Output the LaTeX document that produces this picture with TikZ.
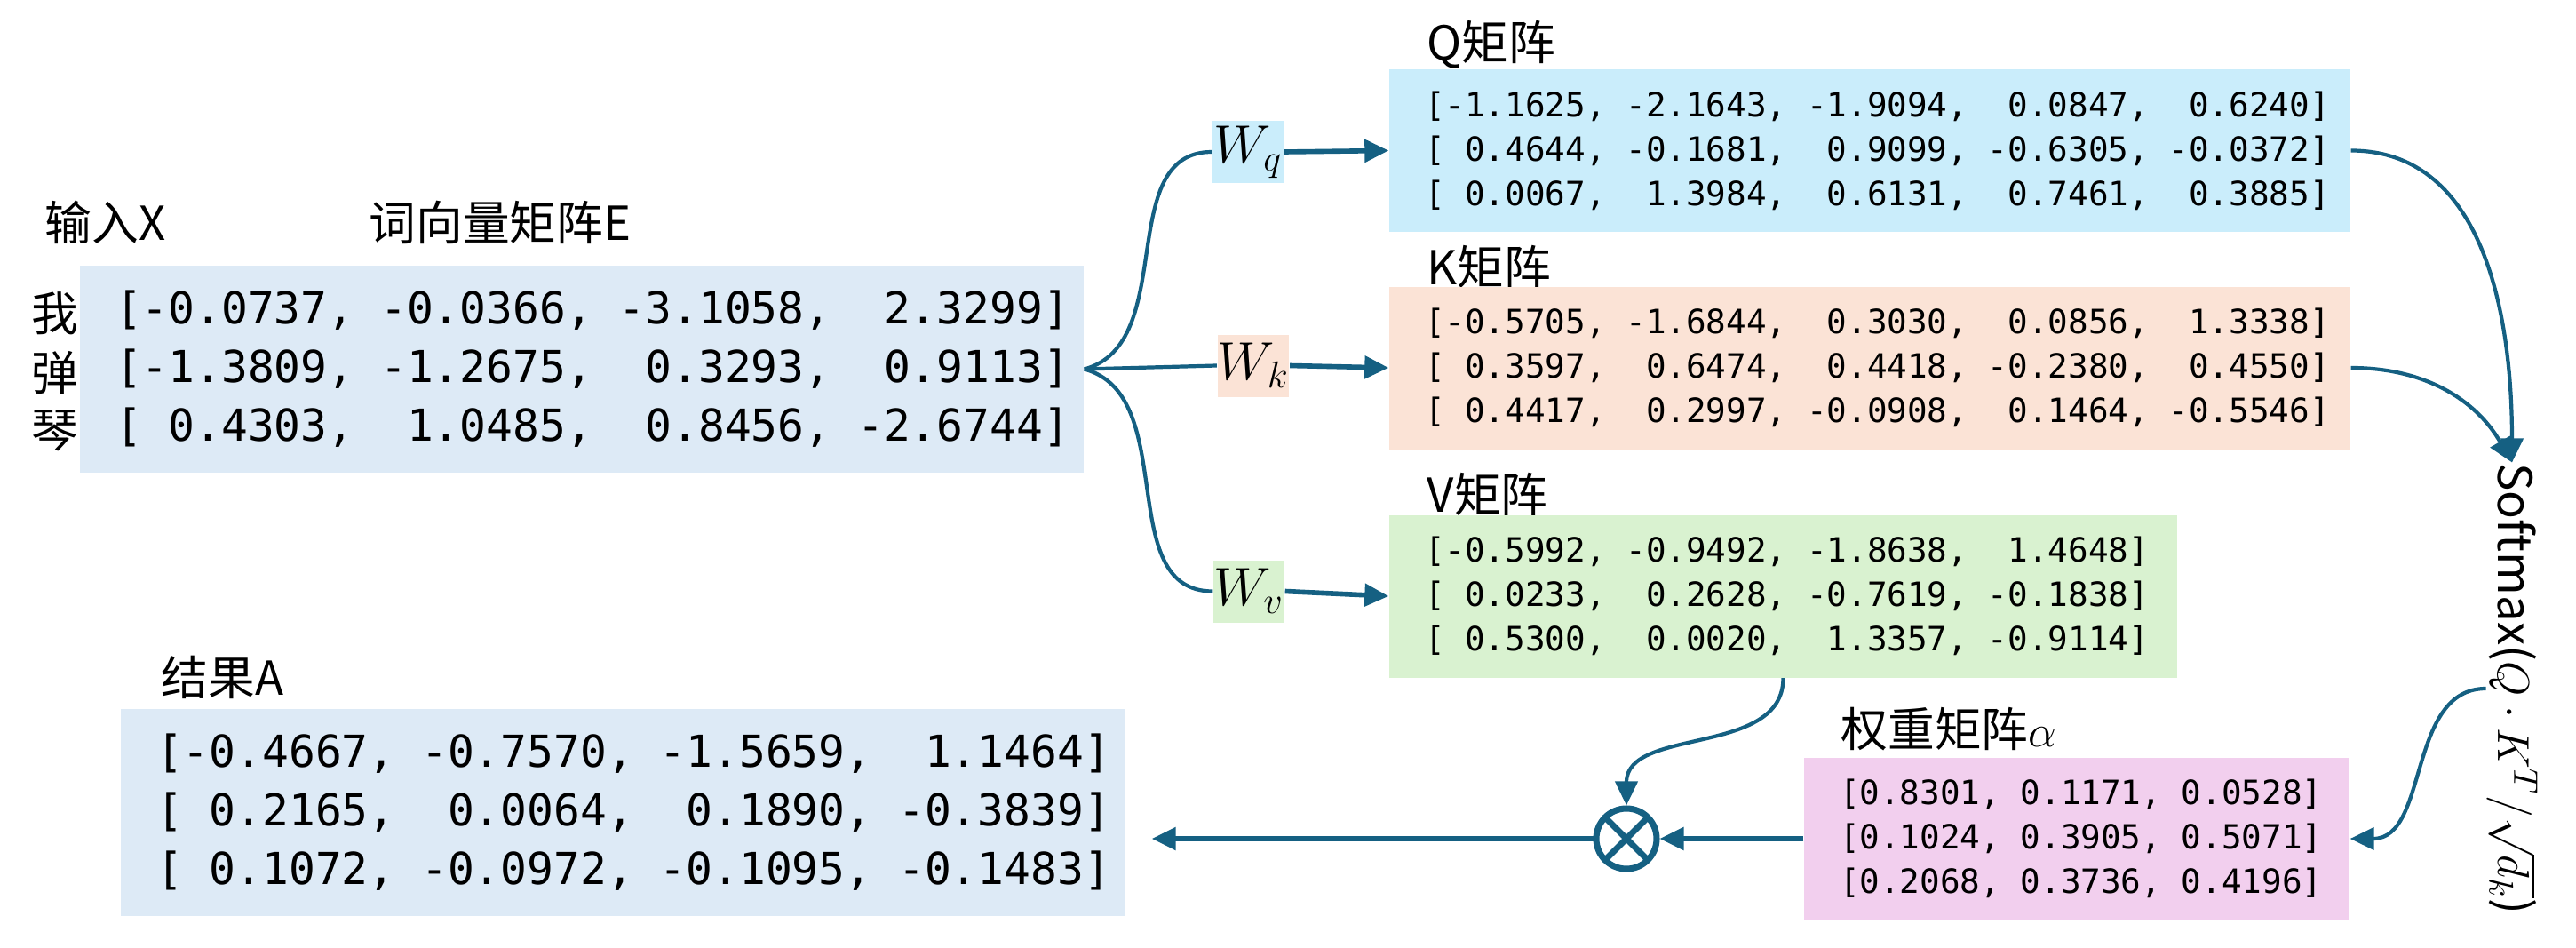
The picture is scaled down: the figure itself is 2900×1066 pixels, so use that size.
\documentclass[tikz,border=0pt]{standalone}
\usepackage{amsmath, amssymb}
\usepackage{fontspec}
\usepackage{xcolor}
\usepackage{tikz}
\usetikzlibrary{arrows.meta}
\setmainfont{Noto Sans CJK SC}
\setmonofont{DejaVu Sans Mono}

\definecolor{flowblue}{HTML}{156082}
\definecolor{embblue}{HTML}{DDEAF6}
\definecolor{qblue}{HTML}{CAEDFB}
\definecolor{kpeach}{HTML}{FBE3D6}
\definecolor{vgreen}{HTML}{D9F2D0}
\definecolor{apink}{HTML}{F2CFEE}
\newcommand{\pad}{\phantom{0}}

\begin{document}
\begin{tikzpicture}[x=0.1mm, y=0.1mm,
    flow/.style={draw=flowblue, line width=1.2pt},
    arr/.style={flow, -{Triangle[length=0.27cm, width=0.25cm]}},
    mat/.style={fill=#1, inner xsep=0.4cm, inner ysep=0pt, align=left},
    bigmat/.style={font=\ttfamily\fontsize{14.1}{18.8}\selectfont, text width=10.5cm, minimum height=2.33cm},
    smallmat/.style={font=\ttfamily\fontsize{10.7}{14.2}\selectfont, minimum height=1.83cm},
    lab/.style={inner sep=0pt, font=\fontsize{15}{18}\selectfont},
    wbox/.style={fill=#1, inner sep=0pt, minimum width=0.8cm, minimum height=0.7cm, font=\fontsize{17}{20}\selectfont}]
    \useasboundingbox (0,0) rectangle (2900,1066);

    \node[lab, anchor=west] (inp) at (50,816) {输入X};
    \node[lab, anchor=west] (emblab) at (415,816) {词向量矩阵E};
    \foreach \i/\ch/\yy in {1/我/713, 2/弹/646, 3/琴/581}
        \node[lab] (tok\i) at (62,\yy) {\ch};
    \node[mat=embblue, bigmat] (emb) at (655,650.5)
        {[-0.0737,\pad-0.0366,\pad-3.1058,\pad\pad2.3299]\\{}[-1.3809,\pad-1.2675,\pad\pad0.3293,\pad\pad0.9113]\\{}[\pad0.4303,\pad\pad1.0485,\pad\pad0.8456,\pad-2.6744]};

    \node[wbox=qblue] (wq) at (1405,895) {$W_q$};
    \node[wbox=kpeach] (wk) at (1411,654.5) {$W_k$};
    \node[wbox=vgreen] (wv) at (1406,400.5) {$W_v$};

    \node[lab, anchor=west] (qlab) at (1606,1016) {Q矩阵};
    \node[mat=qblue, smallmat, text width=10.02cm] (qm) at (2105,896.5)
        {[-1.1625,\pad-2.1643,\pad-1.9094,\pad\pad0.0847,\pad\pad0.6240]\\{}[\pad0.4644,\pad-0.1681,\pad\pad0.9099,\pad-0.6305,\pad-0.0372]\\{}[\pad0.0067,\pad\pad1.3984,\pad\pad0.6131,\pad\pad0.7461,\pad\pad0.3885]};
    \node[lab, anchor=west] (klab) at (1606,766) {K矩阵};
    \node[mat=kpeach, smallmat, text width=10.02cm] (km) at (2105,652)
        {[-0.5705,\pad-1.6844,\pad\pad0.3030,\pad\pad0.0856,\pad\pad1.3338]\\{}[\pad0.3597,\pad\pad0.6474,\pad\pad0.4418,\pad-0.2380,\pad\pad0.4550]\\{}[\pad0.4417,\pad\pad0.2997,\pad-0.0908,\pad\pad0.1464,\pad-0.5546]};
    \node[lab, anchor=west] (vlab) at (1606,510) {V矩阵};
    \node[mat=vgreen, smallmat, text width=8.07cm] (vm) at (2007.5,395)
        {[-0.5992,\pad-0.9492,\pad-1.8638,\pad\pad1.4648]\\{}[\pad0.0233,\pad\pad0.2628,\pad-0.7619,\pad-0.1838]\\{}[\pad0.5300,\pad\pad0.0020,\pad\pad1.3357,\pad-0.9114]};

    \node[lab, rotate=-90] (soft) at (2828,291) {Softmax($Q\cdot K^{T}/\sqrt{d_k}$)};

    \node[lab, anchor=west] (alab) at (2072,245) {权重矩阵$\alpha$};
    \node[mat=apink, smallmat, text width=5.34cm] (wm) at (2338,122)
        {[0.8301,\pad0.1171,\pad0.0528]\\{}[0.1024,\pad0.3905,\pad0.5071]\\{}[0.2068,\pad0.3736,\pad0.4196]};

    \node[circle, draw=flowblue, line width=2pt, minimum size=0.68cm, inner sep=0pt,
        path picture={\draw[flowblue, line width=2pt] (path picture bounding box.north west) -- (path picture bounding box.south east)
            (path picture bounding box.north east) -- (path picture bounding box.south west);}] (mul) at (1831,122) {};

    \node[lab, anchor=west] (reslab) at (181,304) {结果A};
    \node[mat=embblue, bigmat] (am) at (701,151.5)
        {[-0.4667,\pad-0.7570,\pad-1.5659,\pad\pad1.1464]\\{}[\pad0.2165,\pad\pad0.0064,\pad\pad0.1890,\pad-0.3839]\\{}[\pad0.1072,\pad-0.0972,\pad-0.1095,\pad-0.1483]};

    \draw[flow] (emb.east) to[out=15, in=180] (wq.west);
    \draw[flow] (emb.east) -- (wk.west);
    \draw[flow] (emb.east) to[out=-15, in=180] (wv.west);
    \draw[arr, line width=1.6pt] (wq.east) -- (qm.west);
    \draw[arr, line width=1.6pt] (wk.east) -- (km.west);
    \draw[arr, line width=1.6pt] (wv.east) -- (vm.west);
    \draw[arr] (qm.east) to[out=0, in=90] (soft.west);
    \draw[arr] (km.east) to[out=0, in=120] (soft.west);
    \draw[arr] (soft.south) to[out=180, in=0] (wm.east);
    \draw[arr] (vm.south) to[out=-90, in=90] (mul.north);
    \draw[arr, line width=1.6pt] (wm.west) -- (mul.east);
    \draw[arr, line width=1.6pt, shorten >=0.3cm] (mul.west) -- (mul.west -| am.east);
\end{tikzpicture}
\end{document}
